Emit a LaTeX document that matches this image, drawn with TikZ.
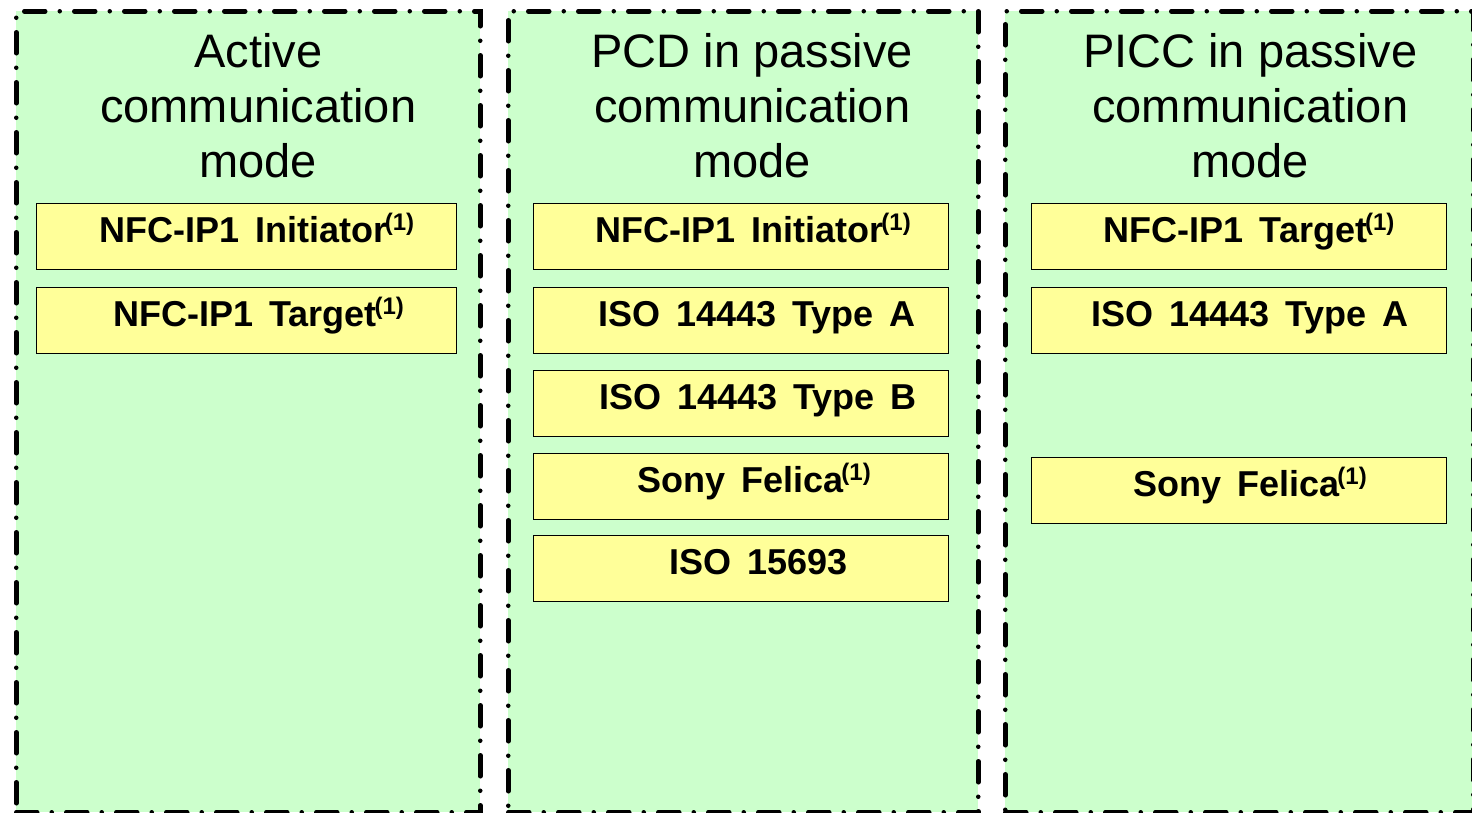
\documentclass[tikz,border=0pt]{standalone}
\usepackage{fontspec}
\setmainfont{Liberation Sans}
\newfontfamily\protofont[WordSpace=1.6]{Liberation Sans}
\usetikzlibrary{positioning}
\definecolor{modegreen}{HTML}{CCFFCC}
\definecolor{protoyellow}{HTML}{FFFF99}
\newcommand{\noteone}{\hspace{-0.06em}\raisebox{12pt}{\fontsize{24}{24}\selectfont(1)}}

\begin{document}
\begin{tikzpicture}[x=1pt, y=-1pt,
  mode/.style={draw, fill=modegreen, line width=4.5pt, line cap=round,
    dash pattern=on 21pt off 14.5pt on 0pt off 14.5pt,
    minimum height=801pt, inner sep=0pt, anchor=north west},
  title/.style={anchor=north, inner sep=0pt, align=center,
    font=\fontsize{47}{55}\selectfont},
  proto/.style={draw, fill=protoyellow, line width=1.3pt,
    minimum width=415pt, minimum height=66pt, inner sep=0pt, anchor=north west},
  prototext/.style={anchor=base, inner sep=0pt,
    font=\protofont\bfseries\fontsize{36}{36}\selectfont}]
\useasboundingbox (0,0) rectangle (1472,812);

% the three modes
\node[mode, minimum width=464pt] (act) at (14,9) {};
\node[mode, minimum width=470pt] (pcd) at (506,9) {};
\node[mode, minimum width=468pt] (picc) at (1003,9) {};

\node[title] (actT) at ([xshift=10pt, yshift=-24pt]act.north) {Active\\communication\\mode};
\node[title] (pcdT) at ([xshift=9pt, yshift=-24pt]pcd.north) {PCD in passive\\communication\\mode};
\node[title] (piccT) at ([xshift=11pt, yshift=-24pt]picc.north) {PICC in passive\\communication\\mode};

% active
\node[proto, minimum width=420pt] (act1) at (36,203) {};
\node[proto, minimum width=420pt] (act2) at (36,287) {};
\node[prototext] at ([xshift=10pt, yshift=-6pt]act1.center) {NFC-IP1 Initiator\noteone};
\node[prototext] at ([xshift=12pt, yshift=-6pt]act2.center) {NFC-IP1 Target\noteone};

% PCD
\node[proto] (pcd1) at (533,203) {};
\node[proto] (pcd2) at (533,287) {};
\node[proto] (pcd3) at (533,370) {};
\node[proto] (pcd4) at (533,453) {};
\node[proto] (pcd5) at (533,535) {};
\node[prototext] at ([xshift=12pt, yshift=-6pt]pcd1.center) {NFC-IP1 Initiator\noteone};
\node[prototext] at ([xshift=16pt, yshift=-6pt]pcd2.center) {ISO 14443 Type A};
\node[prototext] at ([xshift=17pt, yshift=-6pt]pcd3.center) {ISO 14443 Type B};
\node[prototext] at ([xshift=13pt, yshift=-6pt]pcd4.center) {Sony Felica\noteone};
\node[prototext] at ([xshift=17pt, yshift=-6pt]pcd5.center) {ISO 15693};

% PICC
\node[proto] (picc1) at (1031,203) {};
\node[proto] (picc2) at (1031,287) {};
\node[proto] (picc3) at (1031,457) {};
\node[prototext] at ([xshift=10pt, yshift=-6pt]picc1.center) {NFC-IP1 Target\noteone};
\node[prototext] at ([xshift=11pt, yshift=-6pt]picc2.center) {ISO 14443 Type A};
\node[prototext] at ([xshift=11pt, yshift=-6pt]picc3.center) {Sony Felica\noteone};

\end{tikzpicture}
\end{document}
